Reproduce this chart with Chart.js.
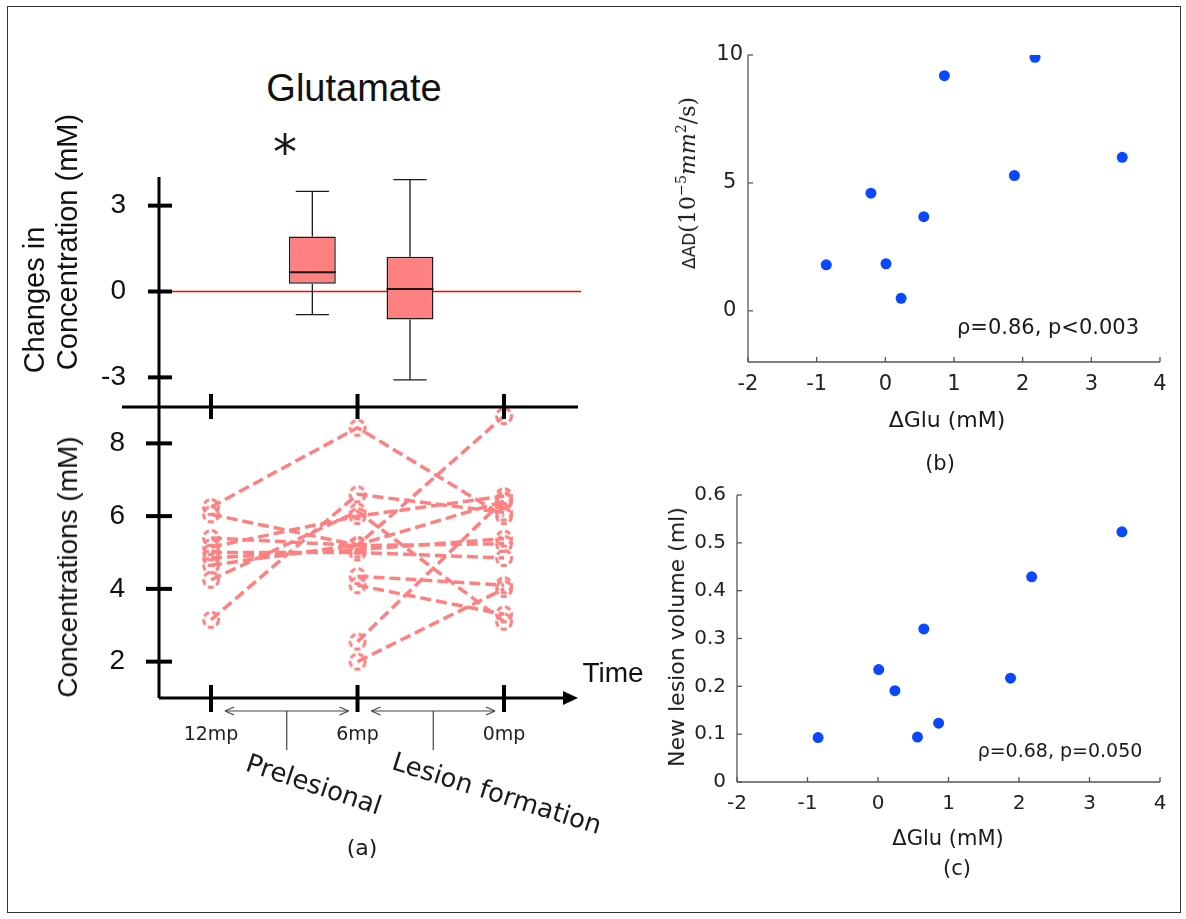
<!DOCTYPE html>
<html>
<head>
<meta charset="utf-8">
<title>Glutamate</title>
<script src="https://cdn.jsdelivr.net/npm/chart.js@4.4.1/dist/chart.umd.min.js"></script>
<style>
  html, body { margin: 0; background: #fff; }
  #fig { position: relative; width: 1186px; height: 919px; overflow: hidden; background: #fff; }
  #frame { position: absolute; left: 7px; top: 6px; width: 1172px; height: 905px; border: 1.5px solid #333; }
  canvas { position: absolute; }
  .t { position: absolute; white-space: nowrap; line-height: 1; transform: translate(-50%, -50%); color: #1a1a1a; }
  .r90 { transform: translate(-50%, -50%) rotate(-90deg); }
  .arial { font-family: 'Liberation Sans', Arial, sans-serif; color: #111; }
  .dv { font-family: 'DejaVu Sans', sans-serif; }
  .serif { font-family: 'DejaVu Serif', 'Liberation Serif', serif; }
  sup { font-size: 0.65em; vertical-align: 0.6em; line-height: 0; }
</style>
</head>
<body>
<div id="fig">
  <div id="frame"></div>
  <canvas id="boxChart" width="620" height="280" style="left:0;top:150px"></canvas>
  <canvas id="lineChart" width="620" height="380" style="left:0;top:380px"></canvas>
  <canvas id="adChart" width="520" height="380" style="left:660px;top:30px"></canvas>
  <canvas id="volChart" width="520" height="370" style="left:660px;top:470px"></canvas>

  <div class="t arial" style="left:354px;top:88px;font-size:38px">Glutamate</div>
  <div class="t dv" style="left:285px;top:152px;font-size:48px">*</div>
  <div class="t arial r90" style="left:34px;top:300px;font-size:29px">Changes in</div>
  <div class="t arial r90" style="left:67px;top:242px;font-size:29px">Concentration (mM)</div>
  <div class="t arial r90" style="left:68px;top:567px;font-size:28px">Concentrations (mM)</div>
  <div class="t arial" style="left:613px;top:673px;font-size:28px">Time</div>
  <div class="t dv" style="left:314px;top:784px;font-size:26px;transform:translate(-50%,-50%) rotate(18.5deg)">Prelesional</div>
  <div class="t dv" style="left:497px;top:793px;font-size:26px;transform:translate(-50%,-50%) rotate(17.5deg)">Lesion formation</div>
  <div class="t dv" style="left:362px;top:848px;font-size:22px">(a)</div>

  <div class="t r90" style="left:688px;top:183px"><span class="dv" style="font-size:17px">ΔAD</span><span class="serif" style="font-size:22px">(10<sup>−5</sup><i>mm</i><sup>2</sup>/s)</span></div>
  <div class="t dv" style="left:947px;top:420px;font-size:22px">ΔGlu (mM)</div>
  <div class="t dv" style="left:940px;top:463px;font-size:21px">(b)</div>
  <div class="t dv" style="left:1048px;top:327px;font-size:21px">ρ=0.86, p&lt;0.003</div>

  <div class="t dv r90" style="left:677px;top:637px;font-size:22px">New lesion volume (ml)</div>
  <div class="t dv" style="left:948px;top:838px;font-size:21px">ΔGlu (mM)</div>
  <div class="t dv" style="left:957px;top:868px;font-size:21px">(c)</div>
  <div class="t dv" style="left:1060px;top:750px;font-size:19px">ρ=0.68, p=0.050</div>
</div>

<script>
// time points of panel (a)
const timeLabels = ['12mp', '6mp', '0mp']
const timePos = [0, 1, 2]
const concTicks = [2, 4, 6, 8]

// glutamate per subject (mM), null = no 12mp scan
const glu12 = [6.25, 6.05, 3.15, 4.25, 5.40, 5.00, 4.85, 4.65, 5.15, null, null, null, null]
const glu6 = [8.43, 5.20, 6.60, 6.13, 5.19, 5.00, 5.08, 5.21, 6.00, 4.35, 4.10, 2.55, 2.00]
const glu0 = [6.00, 8.75, 6.10, 3.10, 5.24, 4.85, 5.38, 6.41, 6.55, 4.10, 3.30, 6.45, 4.00]

// box plot of changes
const periods = ['Prelesional', 'Lesion formation']
const periodPos = [0.5, 1.5]
const changeTicks = [-3, 0, 3]
const boxMin = [-0.81, -3.09]
const boxQ1 = [0.27, -0.98]
const boxMed = [0.67, 0.09]
const boxQ3 = [1.92, 1.21]
const boxMax = [3.50, 3.91]

// panels (b) and (c)
const gluTicks = [-2, -1, 0, 1, 2, 3, 4]
const adTicks = [0, 5, 10]
const volTicks = [0, 0.1, 0.2, 0.3, 0.4, 0.5, 0.6]
const dGluAD = [-0.86, -0.21, 0.01, 0.23, 0.56, 0.86, 1.88, 2.18, 3.45]
const dAD = [1.80, 4.60, 1.84, 0.49, 3.68, 9.19, 5.29, 9.91, 6.00]
const dGluVol = [-0.85, 0.01, 0.24, 0.65, 0.56, 0.86, 1.88, 2.18, 3.46]
const newVol = [0.093, 0.235, 0.191, 0.320, 0.094, 0.123, 0.217, 0.429, 0.523]

Chart.defaults.font.family = 'DejaVu Sans'
Chart.defaults.animation = false
Chart.defaults.events = []
Chart.defaults.plugins.legend.display = false
Chart.defaults.plugins.tooltip.enabled = false

const pink = '#ff8080'
const dotBlue = '#0a48ff'

const fixTicks = (arr) => (scale) => { scale.ticks = arr.map((v) => ({ value: v })) }
// fixed axis width; drop the label overflow padding so the plot area stays where we put it
const width = (w) => (scale) => {
  scale.width = w
  scale.paddingTop = 0
  scale.paddingBottom = 0
}
const height = (h) => (scale) => { scale.height = h }
const noGrid = { display: false, drawTicks: false }

const dashedRing = () => {
  const c = document.createElement('canvas')
  c.width = 22
  c.height = 22
  const g = c.getContext('2d')
  g.strokeStyle = pink
  g.lineWidth = 3
  g.setLineDash([6, 3])
  g.beginPath()
  g.arc(11, 11, 7.5, 0, Math.PI * 2)
  g.stroke()
  return c
}

const line = (ctx, x1, y1, x2, y2) => {
  ctx.beginPath()
  ctx.moveTo(x1, y1)
  ctx.lineTo(x2, y2)
  ctx.stroke()
}

const boxExtras = {
  id: 'boxExtras',
  beforeDatasetsDraw(chart) {
    const { ctx, chartArea: a, scales: { x, y } } = chart
    ctx.save()
    const y0 = y.getPixelForValue(0)
    ctx.strokeStyle = '#ff0000'
    ctx.lineWidth = 1.5
    line(ctx, a.left + 13, y0, a.right + 3, y0)

    ctx.strokeStyle = '#1a1a1a'
    ctx.lineWidth = 1.3
    periodPos.forEach((p, i) => {
      const cx = x.getPixelForValue(p)
      const hw = x.getPixelForValue(p + 0.17) - cx
      const yHi = y.getPixelForValue(boxMax[i])
      const yLo = y.getPixelForValue(boxMin[i])
      line(ctx, cx, y.getPixelForValue(boxQ3[i]), cx, yHi)
      line(ctx, cx, y.getPixelForValue(boxQ1[i]), cx, yLo)
      line(ctx, cx - hw, yHi, cx + hw, yHi)
      line(ctx, cx - hw, yLo, cx + hw, yLo)
    })
    ctx.restore()
  },
  afterDatasetsDraw(chart) {
    const { ctx, chartArea: a, scales: { y } } = chart
    ctx.save()
    ctx.strokeStyle = '#1a1a1a'
    ctx.lineWidth = 2
    chart.getDatasetMeta(0).data.forEach((bar, i) => {
      const ym = y.getPixelForValue(boxMed[i])
      line(ctx, bar.x - bar.width / 2, ym, bar.x + bar.width / 2, ym)
    })
    ctx.strokeStyle = '#000'
    ctx.lineWidth = 3
    line(ctx, a.left, a.top, a.left, a.bottom)
    ctx.lineWidth = 4
    changeTicks.forEach((v) => {
      const yp = y.getPixelForValue(v)
      line(ctx, a.left - 11, yp, a.left + 13, yp)
    })
    ctx.restore()
  }
}

const timeAxes = {
  id: 'timeAxes',
  afterDatasetsDraw(chart) {
    const { ctx, chartArea: a, scales: { x, y } } = chart
    ctx.save()
    ctx.strokeStyle = '#000'
    ctx.fillStyle = '#000'
    ctx.lineWidth = 3
    line(ctx, a.left - 37, a.top, a.right, a.top)
    line(ctx, a.left, a.top, a.left, a.bottom)
    line(ctx, a.left, a.bottom, a.right - 10, a.bottom)
    ctx.beginPath()
    ctx.moveTo(a.right, a.bottom)
    ctx.lineTo(a.right - 15, a.bottom - 7)
    ctx.lineTo(a.right - 15, a.bottom + 7)
    ctx.closePath()
    ctx.fill()

    ctx.lineWidth = 4
    timePos.forEach((v) => {
      const xp = x.getPixelForValue(v)
      line(ctx, xp, a.top - 13, xp, a.top + 12)
      line(ctx, xp, a.bottom - 13, xp, a.bottom + 14)
    })
    concTicks.forEach((v) => {
      const yp = y.getPixelForValue(v)
      line(ctx, a.left - 13, yp, a.left + 13, yp)
    })

    // period arrows under the time axis
    ctx.strokeStyle = '#444'
    ctx.lineWidth = 1.2
    const ya = a.bottom + 13
    for (let i = 0; i < timePos.length - 1; i++) {
      const x1 = x.getPixelForValue(timePos[i]) + 14
      const x2 = x.getPixelForValue(timePos[i + 1]) - 9
      line(ctx, x1, ya, x2, ya)
      line(ctx, x1, ya, x1 + 9, ya - 4)
      line(ctx, x1, ya, x1 + 9, ya + 4)
      line(ctx, x2, ya, x2 - 9, ya - 4)
      line(ctx, x2, ya, x2 - 9, ya + 4)
      const xm = (x1 + x2) / 2
      line(ctx, xm, ya, xm, ya + 39)
    }
    ctx.restore()
  }
}

const sciAxes = {
  id: 'sciAxes',
  afterDraw(chart) {
    const { ctx, chartArea: a, scales: { x, y } } = chart
    ctx.save()
    ctx.strokeStyle = '#555'
    ctx.lineWidth = 1.3
    line(ctx, a.left, a.top, a.left, a.bottom)
    line(ctx, a.left, a.bottom, a.right, a.bottom)
    x.ticks.forEach((t) => {
      const xp = x.getPixelForValue(t.value)
      line(ctx, xp, a.bottom, xp, a.bottom - 5)
    })
    y.ticks.forEach((t) => {
      const yp = y.getPixelForValue(t.value)
      line(ctx, a.left, yp, a.left + 5, yp)
    })
    ctx.restore()
  }
}

// (a) top: changes in concentration
new Chart(document.getElementById('boxChart'), {
  type: 'bar',
  data: {
    datasets: [{
      data: periods.map((p, i) => ({ x: periodPos[i], y: [boxQ1[i], boxQ3[i]] })),
      backgroundColor: pink,
      borderColor: '#1a1a1a',
      borderWidth: 1.5,
      borderSkipped: false,
      barPercentage: 1,
      categoryPercentage: 0.48
    }]
  },
  options: {
    responsive: false,
    devicePixelRatio: 1,
    layout: { padding: { left: 0, right: 42, top: 27, bottom: 24 } },
    scales: {
      x: { type: 'linear', min: -0.355, max: 2.505, display: false, afterBuildTicks: fixTicks(timePos) },
      y: {
        min: -4,
        max: 4,
        afterBuildTicks: fixTicks(changeTicks),
        afterFit: width(159),
        grid: noGrid,
        border: { display: false },
        ticks: { padding: 33, color: '#111', font: { family: 'Liberation Sans', size: 28 }, callback: (v) => String(v) }
      }
    }
  },
  plugins: [boxExtras]
})

// (a) bottom: concentrations over time
const ring = dashedRing()
new Chart(document.getElementById('lineChart'), {
  type: 'line',
  data: {
    datasets: glu6.map((_, i) => ({
      data: [glu12[i], glu6[i], glu0[i]]
        .map((v, k) => ({ x: timePos[k], y: v }))
        .filter((p) => p.y !== null),
      borderColor: pink,
      borderWidth: 3.5,
      borderDash: [11, 5],
      pointStyle: ring,
      pointRadius: 8,
      tension: 0,
      fill: false,
      clip: false
    }))
  },
  options: {
    responsive: false,
    devicePixelRatio: 1,
    layout: { padding: { left: 0, right: 42, top: 27, bottom: 0 } },
    scales: {
      x: {
        type: 'linear',
        min: -0.355,
        max: 2.505,
        afterBuildTicks: fixTicks(timePos),
        afterFit: height(62),
        grid: noGrid,
        border: { display: false },
        ticks: {
          padding: 26,
          maxRotation: 0,
          autoSkip: false,
          color: '#222',
          font: { size: 19 },
          callback: (v) => timeLabels[timePos.indexOf(v)]
        }
      },
      y: {
        min: 1,
        max: 9,
        afterBuildTicks: fixTicks(concTicks),
        afterFit: width(159),
        grid: noGrid,
        border: { display: false },
        ticks: { padding: 34, color: '#111', font: { family: 'Liberation Sans', size: 28 }, callback: (v) => String(v) }
      }
    }
  },
  plugins: [timeAxes]
})

// (b) and (c)
const scatterPanel = (id, xs, ys, yMin, yMax, yTicks, yAxisW, yPad, yAlign, xAxisH, fontSize) => new Chart(document.getElementById(id), {
  type: 'scatter',
  data: {
    datasets: [{
      data: xs.map((v, i) => ({ x: v, y: ys[i] })),
      backgroundColor: dotBlue,
      borderWidth: 0,
      pointRadius: 5.5
    }]
  },
  options: {
    responsive: false,
    devicePixelRatio: 1,
    layout: { padding: { left: 0, right: 20, top: 25, bottom: 0 } },
    scales: {
      x: {
        min: -2,
        max: 4,
        afterBuildTicks: fixTicks(gluTicks),
        afterFit: height(xAxisH),
        grid: noGrid,
        border: { display: false },
        ticks: { padding: 10, maxRotation: 0, autoSkip: false, color: '#222', font: { size: fontSize }, callback: (v) => String(v) }
      },
      y: {
        min: yMin,
        max: yMax,
        afterBuildTicks: fixTicks(yTicks),
        afterFit: width(yAxisW),
        grid: noGrid,
        border: { display: false },
        ticks: { padding: yPad, crossAlign: yAlign, color: '#222', font: { size: fontSize }, callback: (v) => String(v) }
      }
    }
  },
  plugins: [sciAxes]
})

scatterPanel('adChart', dGluAD, dAD, -2, 10, adTicks, 88, 5, 'center', 48, 21)
scatterPanel('volChart', dGluVol, newVol, 0, 0.6, volTicks, 77, 11, 'near', 58, 20)
</script>
</body>
</html>
